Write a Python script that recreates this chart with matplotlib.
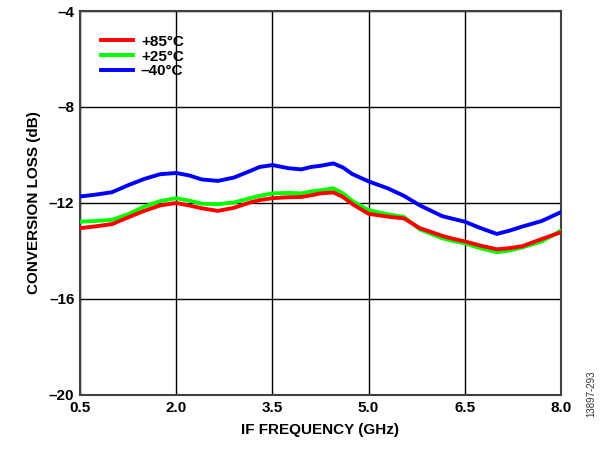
import matplotlib

matplotlib.use("Agg")
import matplotlib.pyplot as plt

# IF frequency (GHz) and conversion loss (dB)
freq = [0.5, 0.75, 1.0, 1.25, 1.5, 1.75, 2.0, 2.2, 2.4, 2.65, 2.9, 3.15, 3.3,
        3.5, 3.75, 3.95, 4.1, 4.25, 4.45, 4.6, 4.75, 5.0, 5.3, 5.55, 5.8, 6.15,
        6.3, 6.5, 6.75, 7.0, 7.2, 7.4, 7.7, 8.0]
loss_p85 = [-13.05, -12.97, -12.88, -12.6, -12.33, -12.1, -12.0, -12.1, -12.22,
            -12.33, -12.2, -11.98, -11.88, -11.8, -11.76, -11.75, -11.68, -11.6,
            -11.56, -11.75, -12.05, -12.45, -12.57, -12.64, -13.05, -13.37,
            -13.48, -13.6, -13.78, -13.93, -13.88, -13.8, -13.5, -13.22]
loss_p25 = [-12.78, -12.75, -12.7, -12.47, -12.15, -11.92, -11.8, -11.9, -12.03,
            -12.05, -11.98, -11.8, -11.7, -11.6, -11.58, -11.6, -11.52, -11.47,
            -11.39, -11.6, -11.92, -12.3, -12.47, -12.58, -13.1, -13.47,
            -13.57, -13.68, -13.89, -14.05, -13.98, -13.85, -13.6, -13.15]
loss_m40 = [-11.73, -11.65, -11.55, -11.26, -11.0, -10.8, -10.75, -10.85, -11.02,
            -11.08, -10.94, -10.67, -10.5, -10.42, -10.55, -10.6, -10.5, -10.45,
            -10.35, -10.52, -10.8, -11.1, -11.39, -11.7, -12.1, -12.55,
            -12.65, -12.78, -13.05, -13.29, -13.15, -12.98, -12.75, -12.38]

x_ticks = [0.5, 2.0, 3.5, 5.0, 6.5, 8.0]
x_tick_labels = ["0.5", "2.0", "3.5", "5.0", "6.5", "8.0"]
y_ticks = [-20, -16, -12, -8, -4]
y_tick_labels = ["\u201320", "\u201316", "\u201312", "\u20138", "\u20134"]

plt.rcParams["font.family"] = ["Liberation Sans", "DejaVu Sans"]
plt.rcParams["font.weight"] = "bold"

fig = plt.figure(figsize=(6.0, 4.51), dpi=100)
ax = fig.add_axes([0.1333, 0.1242, 0.8017, 0.8514])

ax.plot(freq, loss_m40, color="#0000FF", lw=2.8, zorder=3, label="\u201340\u00b0C")
ax.plot(freq, loss_p25, color="#00FF00", lw=2.8, zorder=4, label="+25\u00b0C")
ax.plot(freq, loss_p85, color="#FF0000", lw=2.8, zorder=5, label="+85\u00b0C")

ax.set_xlim(0.5, 8.0)
ax.set_ylim(-20, -4)
ax.set_xticks(x_ticks)
ax.set_xticklabels(x_tick_labels, fontsize=11, fontweight="bold")
ax.set_yticks(y_ticks)
ax.set_yticklabels(y_tick_labels, fontsize=11, fontweight="bold")
ax.tick_params(length=0, pad=4)
ax.grid(True, color="#000000", linewidth=1.0)
ax.set_axisbelow(True)
for sp in ax.spines.values():
    sp.set_color("#404040")
    sp.set_linewidth(1.5)

ax.set_xlabel("IF FREQUENCY (GHz)", fontsize=11, fontweight="bold", labelpad=6)
ax.set_ylabel("CONVERSION LOSS (dB)", fontsize=11, fontweight="bold", labelpad=6)

handles, labels = ax.get_legend_handles_labels()
order = [2, 1, 0]
leg = ax.legend([handles[i] for i in order], [labels[i] for i in order],
                loc="upper left", bbox_to_anchor=(0.025, 0.962), frameon=False,
                fontsize=11, handlelength=2.1, handletextpad=0.5,
                labelspacing=0.05, borderaxespad=0.2)
for t in leg.get_texts():
    t.set_fontweight("bold")

fig.text(0.985, 0.075, "13897-293", rotation=90, fontsize=7, color="#333333",
         fontweight="normal", ha="center", va="bottom")

fig.savefig("out.png", dpi=100)
